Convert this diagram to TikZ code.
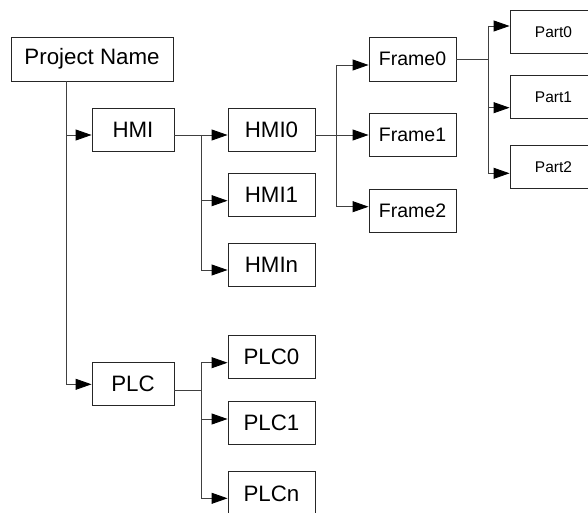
\documentclass[tikz,border=0pt]{standalone}
\usepackage{fontspec}
\setmainfont{Liberation Sans}
\usetikzlibrary{arrows.meta}
\begin{document}
\begin{tikzpicture}[x=1pt,y=-1pt,
  box/.style={draw=black!85,line width=0.9pt,fill=white,inner sep=0pt,minimum width=87pt,minimum height=43pt},
  big/.style={font=\fontsize{22.3}{24}\selectfont},
  mid/.style={font=\fontsize{19.5}{22}\selectfont},
  small/.style={font=\fontsize{15.5}{18}\selectfont},
  conn/.style={draw=black!75,line width=0.9pt},
  arr/.style={conn,-{Triangle[length=16pt,width=11pt,color=black,fill=black]}}]
\useasboundingbox (0,0) rectangle (588,513);
\clip (0,0) rectangle (588,513);
% nodes
\node[box,big,minimum width=162pt,minimum height=44pt] (pn) at (92,59) {Project Name};
\node[box,big,minimum width=82pt] (hmi) at (133,129.5) {HMI};
\node[box,big] (hmi0) at (271.5,129.5) {HMI0};
\node[box,big] (hmi1) at (271.5,194.5) {HMI1};
\node[box,big] (hmin) at (271.5,265) {HMIn};
\node[box,mid,minimum height=44pt] (f0) at (412.5,59) {Frame0};
\node[box,mid] (f1) at (412.5,135) {Frame1};
\node[box,mid] (f2) at (412.5,210.8) {Frame2};
\node[box,small] (p0) at (553.5,31.7) {Part0};
\node[box,small] (p1) at (553.5,97) {Part1};
\node[box,small] (p2) at (553.5,167.3) {Part2};
\node[box,big,minimum width=82pt] (plc) at (133,384.3) {PLC};
\node[box,big] (plc0) at (271.5,357.3) {PLC0};
\node[box,big] (plc1) at (271.5,422.7) {PLC1};
\node[box,big,minimum height=43.5pt] (plcn) at (271.5,493.5) {PLCn};
% branch points
\coordinate (t) at ([xshift=-26pt]pn.south);
\coordinate (b1) at (201,135);
\coordinate (b2) at (336,135);
\coordinate (b3) at (488,59);
\coordinate (b4) at (201,390);
% trunk
\draw[conn] (t) -- (t |- plc.west);
\draw[arr] (t |- hmi.west) ++(0,5.5) -- ([yshift=-5.5pt]hmi.west);
\draw[arr] (t |- plc.west) -- (plc.west);
% HMI branch
\draw[conn] ([yshift=-5.5pt]hmi.east) -- (b1);
\draw[conn] (b1) -- (b1 |- 0,270);
\draw[arr] (b1) -- ([yshift=-5.5pt]hmi0.west);
\draw[arr] (b1 |- 0,200.7) -- ([yshift=-6.2pt]hmi1.west);
\draw[arr] (b1 |- 0,270) -- ([yshift=-5pt]hmin.west);
% HMI0 branch
\draw[conn] ([yshift=-5.5pt]hmi0.east) -- (b2);
\draw[conn] (b2 |- 0,65) -- (b2 |- 0,206.7);
\draw[arr] (b2 |- 0,65) -- ([yshift=-6pt]f0.west);
\draw[arr] (b2) -- (f1.west);
\draw[arr] (b2 |- 0,206.7) -- ([yshift=4.1pt]f2.west);
% Frame0 branch
\draw[conn] (f0.east) -- (b3);
\draw[conn] (b3 |- 0,26) -- (b3 |- 0,173.3);
\draw[arr] (b3 |- 0,26) -- ([yshift=5.7pt]p0.west);
\draw[arr] (b3 |- 0,107.7) -- ([yshift=-10.7pt]p1.west);
\draw[arr] (b3 |- 0,173.3) -- ([yshift=-6pt]p2.west);
% PLC branch
\draw[conn] ([yshift=-5.7pt]plc.east) -- (b4);
\draw[conn] (b4 |- 0,362.7) -- (b4 |- 0,498.3);
\draw[arr] (b4 |- 0,362.7) -- ([yshift=-5.4pt]plc0.west);
\draw[arr] (b4 |- 0,419) -- ([yshift=3.7pt]plc1.west);
\draw[arr] (b4 |- 0,498.3) -- ([yshift=-4.8pt]plcn.west);
\end{tikzpicture}
\end{document}
